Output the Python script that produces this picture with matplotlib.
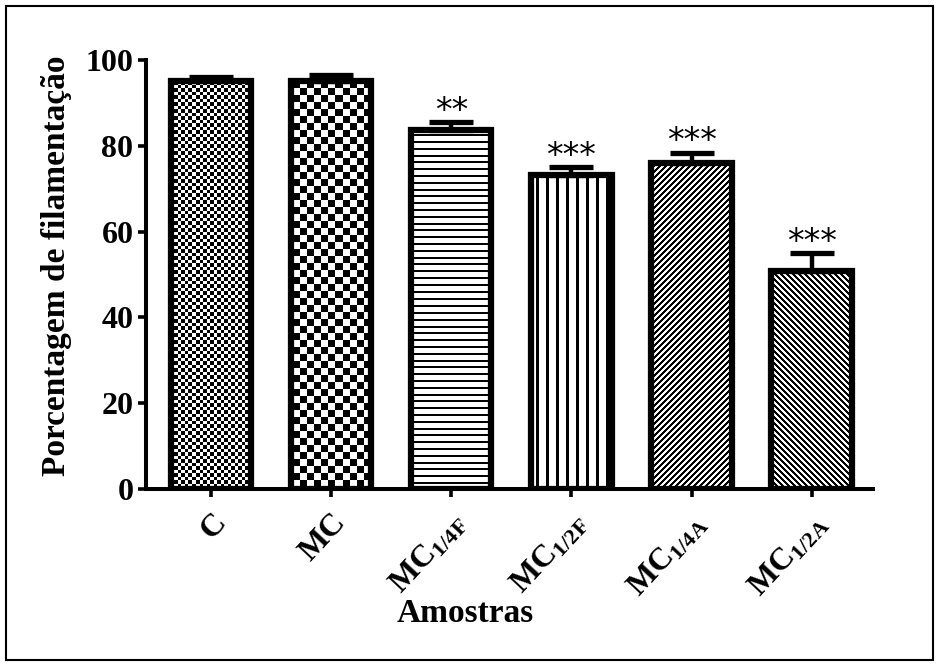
import numpy as np
import matplotlib
matplotlib.use("Agg")
import matplotlib.pyplot as plt
from matplotlib.patches import Rectangle

# ---- data ----
categories = ["C", "MC", r"MC$_{\mathrm{1/4F}}$", r"MC$_{\mathrm{1/2F}}$",
              r"MC$_{\mathrm{1/4A}}$", r"MC$_{\mathrm{1/2A}}$"]
values = [95.0, 95.0, 83.7, 73.1, 75.9, 50.7]
errors = [1.1, 1.6, 1.8, 1.9, 2.5, 4.2]
stars = ["", "", "**", "***", "***", "***"]
patterns = ["fine_checker", "checker", "hlines", "vlines", "fdiag", "bdiag"]
yticks = [0, 20, 40, 60, 80, 100]

plt.rcParams["font.family"] = ["Liberation Serif", "DejaVu Serif"]
plt.rcParams["font.weight"] = "bold"
plt.rcParams["mathtext.fontset"] = "custom"
plt.rcParams["mathtext.rm"] = "Liberation Serif:bold"
plt.rcParams["mathtext.it"] = "Liberation Serif:bold"
plt.rcParams["mathtext.bf"] = "Liberation Serif:bold"

fig = plt.figure(figsize=(9.4, 6.66), dpi=100)
ax = fig.add_axes([146/940, 1-489/666, (873-146)/940, (489-60)/666])

x = np.arange(len(categories))
ax.set_xlim(-0.54, 5.51)
ax.set_ylim(0, 100)

bars = ax.bar(x, values, width=0.67, facecolor="none", edgecolor="black",
              linewidth=4.5, zorder=3)

# textures in pixel space
fig.canvas.draw()
bb = ax.get_window_extent()
W, H = int(round(bb.width)), int(round(bb.height))
jj, ii = np.mgrid[0:H, 0:W]

def texture(kind):
    if kind == "fine_checker":
        return ((np.floor(ii/3.5) + np.floor(jj/3.5)) % 2).astype(float)
    if kind == "checker":
        return ((np.floor(ii/7) + np.floor(jj/7)) % 2).astype(float)
    if kind == "hlines":
        return ((jj % 6.8) >= 2).astype(float)
    if kind == "vlines":
        return ((ii % 10) >= 2.5).astype(float)
    if kind == "fdiag":
        return (((ii + jj) % 6) >= 3).astype(float)
    if kind == "bdiag":
        return (((ii - jj) % 6) >= 3).astype(float)
    return np.ones((H, W))

for bar, kind in zip(bars, patterns):
    im = ax.imshow(texture(kind), cmap="gray", vmin=0, vmax=1,
                   extent=(*ax.get_xlim(), *ax.get_ylim()), aspect="auto",
                   interpolation="nearest", origin="upper", zorder=2)
    im.set_clip_path(bar)

ax.set_xlim(-0.54, 5.51)
ax.set_ylim(0, 100)

ax.errorbar(x, values, yerr=[np.zeros(len(values)), errors], fmt="none",
            ecolor="black", elinewidth=3.2, capsize=16, capthick=3.8, zorder=2.5)

for xi, v, e, s in zip(x, values, errors, stars):
    if s:
        ax.annotate(s, (xi, v + e), xytext=(0, 1), textcoords="offset points",
                    ha="center", va="baseline", fontsize=24,
                    family="DejaVu Sans", fontweight="normal")

for sp in ["top", "right"]:
    ax.spines[sp].set_visible(False)
for sp in ["left", "bottom"]:
    ax.spines[sp].set_linewidth(2.9)

ax.set_yticks(yticks)
ax.set_yticklabels([str(t) for t in yticks], fontsize=23, fontweight="bold")
ax.set_xticks(x)
ax.set_xticklabels(categories, fontsize=23, fontweight="bold", rotation=47,
                   ha="right", rotation_mode="anchor")
ax.tick_params(axis="both", direction="out", length=6, width=2.6)
ax.tick_params(axis="y", pad=3)
ax.tick_params(axis="x", pad=8)

ax.set_ylabel("Porcentagem de filamentação", fontsize=24, fontweight="bold")
ax.yaxis.set_label_coords(-0.102, 0.52)
fig.text(465/940, 1-613/666, "Amostras", fontsize=24, fontweight="bold",
         ha="center", va="center")

fig.patches.append(Rectangle((6/940, 6/666), 927/940, 654/666,
                             transform=fig.transFigure, fill=False,
                             edgecolor="black", linewidth=1.5))

fig.savefig("out.png", dpi=100)
